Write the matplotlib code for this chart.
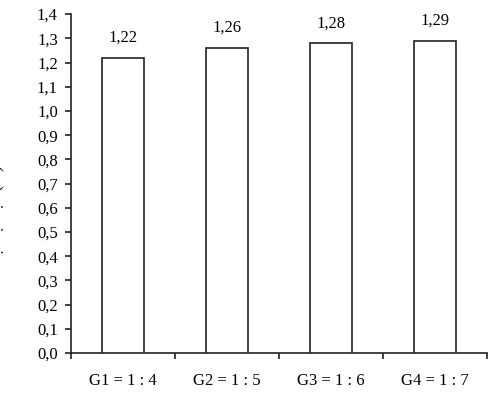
import matplotlib
matplotlib.use("Agg")
import matplotlib.pyplot as plt
import numpy as np

categories = ["G1 = 1 : 4", "G2 = 1 : 5", "G3 = 1 : 6", "G4 = 1 : 7"]
values = [1.22, 1.26, 1.28, 1.29]
value_labels = ["1,22", "1,26", "1,28", "1,29"]
yticks = [0.0, 0.1, 0.2, 0.3, 0.4, 0.5, 0.6, 0.7, 0.8, 0.9, 1.0, 1.1, 1.2, 1.3, 1.4]
ytick_labels = ["0,0", "0,1", "0,2", "0,3", "0,4", "0,5", "0,6", "0,7", "0,8", "0,9",
                "1,0", "1,1", "1,2", "1,3", "1,4"]
ylabel = "Tỉ lệ thịt nạc (%)"

plt.rcParams['font.family'] = ['Liberation Serif', 'DejaVu Serif']
FS = 12

fig = plt.figure(figsize=(4.91, 4.04), dpi=100)
ax = fig.add_axes([0.1446, 0.126, 0.8474, 0.839])

x = np.arange(len(categories))
ax.bar(x, values, width=0.4, color="white", edgecolor="#222222", linewidth=1.2, zorder=3)
for xi, v, lab in zip(x, values, value_labels):
    ax.annotate(lab, (xi, v), xytext=(0, 11.5), textcoords="offset points",
                ha="center", va="baseline", fontsize=FS)

ax.set_ylim(0, 1.4)
ax.set_xlim(-0.5, 3.5)
ax.set_yticks(yticks)
ax.set_yticklabels(ytick_labels, fontsize=FS)
ax.set_xticks(x)
ax.set_xticklabels(categories, fontsize=FS)
ax.tick_params(axis="x", which="major", length=0, pad=14)
ax.set_xticks(np.arange(-0.5, 4.0, 1.0), minor=True)
ax.tick_params(axis="x", which="minor", length=4, width=1.2, direction="out", color="#222222")
ax.tick_params(axis="y", length=4.5, width=1.2, direction="out", color="#222222", pad=5)

for s in ["top", "right"]:
    ax.spines[s].set_visible(False)
for s in ["left", "bottom"]:
    ax.spines[s].set_linewidth(1.2)
    ax.spines[s].set_color("#222222")

fig.text(-4 / 491, 1 - 222 / 404, ylabel, rotation=90, ha="center", va="center", fontsize=FS)

fig.savefig("out.png", dpi=100)
